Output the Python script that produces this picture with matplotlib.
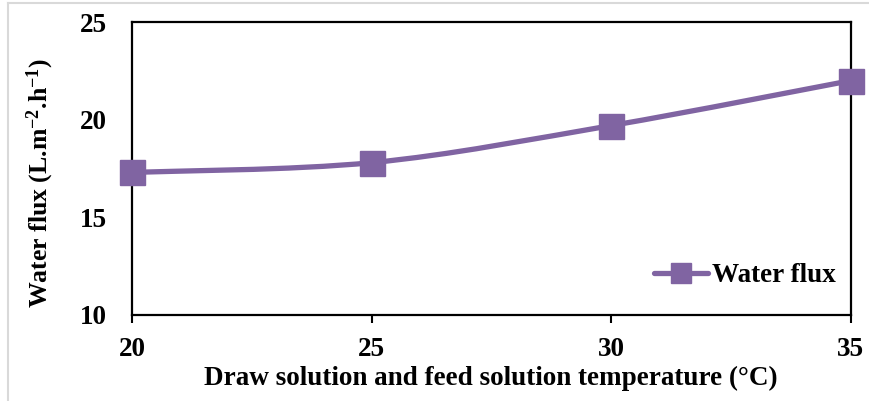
import matplotlib
matplotlib.use("Agg")
import matplotlib.pyplot as plt
from matplotlib.path import Path
from matplotlib.patches import PathPatch
from matplotlib.lines import Line2D
import numpy as np

temperature = [20, 25, 30, 35]
water_flux = [17.3, 17.8, 19.7, 22.0]
x_ticks = [20, 25, 30, 35]
y_ticks = [10, 15, 20, 25]

purple = "#8064A2"

plt.rcParams["font.family"] = ["Liberation Serif", "DejaVu Serif"]
plt.rcParams["font.weight"] = "bold"
plt.rcParams["mathtext.fontset"] = "custom"
plt.rcParams["mathtext.rm"] = "Liberation Serif:bold"
plt.rcParams["mathtext.it"] = "Liberation Serif:bold"
plt.rcParams["mathtext.bf"] = "Liberation Serif:bold"


def smooth_path(xs, ys):
    # Catmull-Rom style bezier through every point, like a spreadsheet "smoothed line"
    p = np.column_stack([xs, ys]).astype(float)
    ext = np.vstack([p[0], p, p[-1]])
    verts = [p[0]]
    codes = [Path.MOVETO]
    for i in range(len(p) - 1):
        p0, p1, p2, p3 = ext[i], ext[i + 1], ext[i + 2], ext[i + 3]
        c1 = p1 + (p2 - p0) / 6.0
        c2 = p2 - (p3 - p1) / 6.0
        verts += [c1, c2, p2]
        codes += [Path.CURVE4] * 3
    return Path(verts, codes)


fig = plt.figure(figsize=(8.7, 4.01), dpi=100)
ax = fig.add_axes([132 / 870, 1 - 315 / 401, (851 - 132) / 870, (315 - 22) / 401])

ax.add_patch(PathPatch(smooth_path(temperature, water_flux), facecolor="none",
                       edgecolor=purple, lw=3.8, capstyle="round", zorder=3))
ax.plot(temperature, water_flux, linestyle="none", marker="s", markersize=18,
        color=purple, zorder=4, clip_on=False)

ax.set_xlim(20, 35)
ax.set_ylim(10, 25)
ax.set_xticks(x_ticks)
ax.set_yticks(y_ticks)
ax.tick_params(axis="x", direction="out", length=5.5, width=1.5, pad=10,
               labelsize=19.5)
ax.tick_params(axis="y", length=0, pad=18, labelsize=19.5)
for lab in ax.get_xticklabels() + ax.get_yticklabels():
    lab.set_fontweight("bold")
for s in ax.spines.values():
    s.set_linewidth(1.6)
    s.set_color("black")

fig.text(491 / 870, 1 - 378 / 401, "Draw solution and feed solution temperature (\u00b0C)",
         ha="center", va="center", fontsize=19.5, fontweight="bold")
fig.text(40 / 870, 1 - 183 / 401, "Water flux (L.m$^{-2}$.h$^{-1}$)",
         ha="center", va="center", rotation=90, fontsize=18.5, fontweight="bold")

handle = Line2D([], [], color=purple, lw=3.8, marker="s", markersize=14,
                solid_capstyle="round")
ax.legend([handle], ["Water flux"], loc="center right", frameon=False,
          bbox_to_anchor=(836 / 870, 1 - 276 / 401), bbox_transform=fig.transFigure,
          borderpad=0, borderaxespad=0, handlelength=2.0, handletextpad=0.15,
          prop={"size": 19.5, "weight": "bold"})

# thin grey border of the chart area
fig.add_artist(Line2D([8 / 870, 8 / 870], [0, 1 - 3 / 401], color="#d9d9d9", lw=1.5,
                      transform=fig.transFigure))
fig.add_artist(Line2D([8 / 870, 1], [1 - 3 / 401, 1 - 3 / 401], color="#d9d9d9", lw=1.5,
                      transform=fig.transFigure))

fig.savefig("out.png", dpi=100)
